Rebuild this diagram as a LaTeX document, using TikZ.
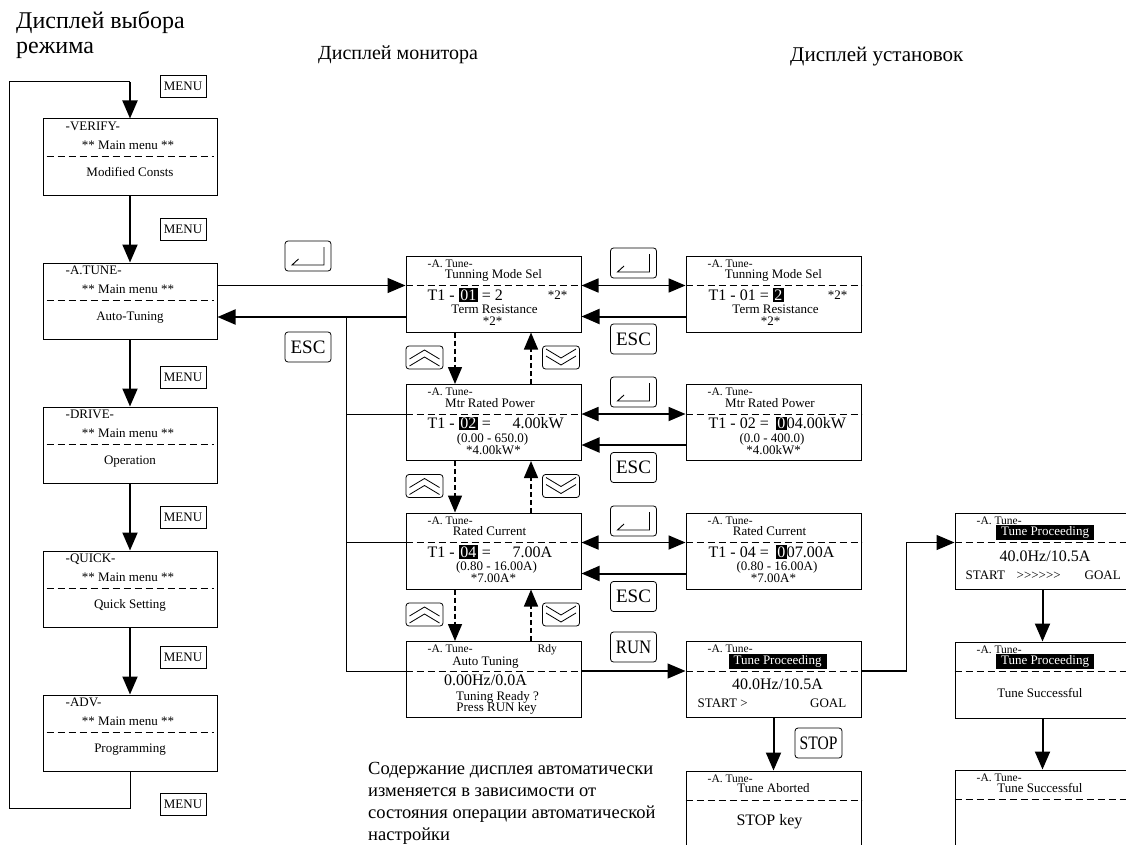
\documentclass[tikz,border=0pt]{standalone}
\usepackage{fontspec}
\setmainfont{Liberation Serif}
\usepackage{graphicx}
\usetikzlibrary{arrows.meta,calc}

% inverted (white on black) characters on the LCD
\newcommand{\hl}[1]{{\setlength{\fboxsep}{1.5pt}\colorbox{black}{\textcolor{white}{#1}}}}

\tikzset{
  % LCD screens
  menubox/.style={draw, line width=1pt, minimum width=174pt, minimum height=76pt, inner sep=0pt},
  scr/.style={draw, line width=1pt, minimum width=175pt, minimum height=76pt, inner sep=0pt},
  lcdsep/.style={line width=1pt, dash pattern=on 7pt off 4pt},
  % screen text
  lsmall/.style={inner sep=0pt, font=\fontsize{11.5}{12}\selectfont, text height=8pt, text depth=2.5pt},
  ltxt/.style={inner sep=0pt, font=\fontsize{13}{14}\selectfont, text height=9pt, text depth=3pt},
  lval/.style={inner sep=0pt, font=\fontsize{16}{17}\selectfont, text height=11pt, text depth=3.5pt},
  linv/.style={fill=black, text=white, inner xsep=5pt, inner ysep=1.5pt, font=\fontsize{13}{14}\selectfont, text height=9pt, text depth=3pt},
  % keys
  menukey/.style={draw, line width=0.8pt, minimum width=46pt, minimum height=22pt, inner sep=0pt, font=\fontsize{13}{14}\selectfont},
  btn/.style={draw, rounded corners=3pt, line width=0.8pt, minimum width=46pt, minimum height=30pt, inner sep=0pt, font=\fontsize{19}{20}\selectfont},
  enterkey/.style={btn, path picture={
      \draw[line width=0.9pt, sharp corners] (path picture bounding box.center)
        ++(16,-9) -- ++(0,18) -- ++(-32,0) -- ++(6.5,-6);}},
  upkey/.style={btn, minimum width=37pt, minimum height=23pt, path picture={
      \draw[line width=0.8pt, sharp corners] (path picture bounding box.center)
        ++(-15,1.5) -- ++(15,-9) -- ++(15,9)
        (path picture bounding box.center) ++(-15,8.5) -- ++(15,-9) -- ++(15,9);}},
  downkey/.style={btn, minimum width=37pt, minimum height=23pt, path picture={
      \draw[line width=0.8pt, sharp corners] (path picture bounding box.center)
        ++(-15,-8.5) -- ++(15,9) -- ++(15,-9)
        (path picture bounding box.center) ++(-15,-1.5) -- ++(15,9) -- ++(15,-9);}},
  % connectors
  arr/.style={-{Triangle[length=18pt,width=15pt]}, line width=2pt},
  arrthin/.style={arr, line width=1.3pt},
  arr2/.style={{Triangle[length=17pt,width=14pt]}-{Triangle[length=17pt,width=14pt]}, line width=1.8pt},
  arrdash/.style={-{Triangle[length=17pt,width=14pt]}, line width=1.5pt, dash pattern=on 5pt off 3pt},
  wire/.style={line width=1pt},
}

\begin{document}
\begin{tikzpicture}[x=1pt, y=-1pt]
    \useasboundingbox (0,0) rectangle (1126,845);
    \clip (0,0) rectangle (1126,845);

    % Column headings
    \node[anchor=north west, align=left, inner sep=0pt, font=\fontsize{24}{25}\selectfont] (hmode) at (16,11) {Дисплей выбора\\режима};
    \node[anchor=base west, inner sep=0pt, font=\fontsize{20}{24}\selectfont] (hmon) at (318,60) {Дисплей монитора};
    \node[anchor=base west, inner sep=0pt, font=\fontsize{21}{24}\selectfont] (hset) at (790,62) {Дисплей установок};

    % Main menu screens
    \foreach \n/\hd/\txt [count=\i from 0] in {verify/-VERIFY-/Modified Consts, atune/-A.TUNE-/Auto-Tuning, drive/-DRIVE-/Operation, quick/-QUICK-/Quick Setting, adv/-ADV-/Programming}{
        \node[menubox] (\n) at (130,157+144*\i) {};
        \node[ltxt, anchor=west] (\n-h) at ([shift={(23,9)}]\n.north west) {\hd};
        \node[ltxt] (\n-m) at ([shift={(-2,28)}]\n.north) {** Main menu **};
        \draw[lcdsep] ([shift={(4,38)}]\n.north west) -- ([shift={(-4,38)}]\n.north east);
        \node[ltxt] (\n-t) at ([shift={(0,55)}]\n.north) {\txt};
    }
    \foreach \y [count=\i] in {86,229.5,377,517,657,804.5}
        \node[menukey] (menu\i) at (183,\y) {MENU};

    % Monitor and setting screens
    \foreach \n [count=\i from 0] in {tmode, mpower, rcur, autotun}
        \node[scr] (\n) at (493.5,294+128.5*\i) {};
    \foreach \n [count=\i from 0] in {tmodeS, mpowerS, rcurS}
        \node[scr] (\n) at (773.5,294+128.5*\i) {};
    \node[scr] (tproc) at (773.5,679.5) {};
    \node[scr] (tabort) at (773.5,809) {};
    \node[scr] (rprog) at (1042.5,551) {};
    \node[scr] (rdone) at (1042.5,680) {};
    \node[scr] (rsucc) at (1042.5,808) {};
    \foreach \n in {tmode, mpower, rcur, autotun, tmodeS, mpowerS, rcurS, tproc, tabort, rprog, rdone, rsucc}{
        \coordinate (\n-w) at ([yshift=-30pt]\n.north west);
        \coordinate (\n-e) at ([yshift=-30pt]\n.north east);
        \draw[lcdsep] (\n-w) -- (\n-e);
        \node[lsmall, anchor=west] (\n-h) at ([shift={(22,9)}]\n.north west) {-A. Tune-};
    }

    % T1-01
    \node[ltxt] (tmode-t) at ([shift={(0,20)}]tmode.north) {Tunning Mode Sel};
    \node[lval, anchor=west] (tmode-v) at ([shift={(22,41)}]tmode.north west) {T1 - \hl{01} = 2};
    \node[ltxt, anchor=east] (tmode-r) at ([shift={(-14,41)}]tmode.north east) {*2*};
    \node[ltxt] (tmode-c) at ([shift={(1,55)}]tmode.north) {Term Resistance};
    \node[ltxt] (tmode-d) at ([shift={(-1,67)}]tmode.north) {*2*};
    \node[ltxt] (tmodeS-t) at ([shift={(0,20)}]tmodeS.north) {Tunning Mode Sel};
    \node[lval, anchor=west] (tmodeS-v) at ([shift={(23,41)}]tmodeS.north west) {T1 - 01 = \hl{2}};
    \node[ltxt, anchor=east] (tmodeS-r) at ([shift={(-14,41)}]tmodeS.north east) {*2*};
    \node[ltxt] (tmodeS-c) at ([shift={(2,55)}]tmodeS.north) {Term Resistance};
    \node[ltxt] (tmodeS-d) at ([shift={(-3,67)}]tmodeS.north) {*2*};

    % T1-02
    \node[ltxt] (mpower-t) at ([shift={(-3.5,20)}]mpower.north) {Mtr Rated Power};
    \node[lval, anchor=west] (mpower-v) at ([shift={(22,41)}]mpower.north west) {T1 - \hl{02} =};
    \node[lval, anchor=west] (mpower-u) at ([shift={(107,41)}]mpower.north west) {4.00kW};
    \node[ltxt] (mpower-c) at ([shift={(-1,55)}]mpower.north) {(0.00 - 650.0)};
    \node[ltxt] (mpower-d) at ([shift={(0,67)}]mpower.north) {*4.00kW*};
    \node[ltxt] (mpowerS-t) at ([shift={(-3.5,20)}]mpowerS.north) {Mtr Rated Power};
    \node[lval, anchor=west] (mpowerS-v) at ([shift={(23,41)}]mpowerS.north west) {T1 - 02 =\hspace{7pt}\hl{0}04.00kW};
    \node[ltxt] (mpowerS-c) at ([shift={(-1.5,55)}]mpowerS.north) {(0.0 - 400.0)};
    \node[ltxt] (mpowerS-d) at ([shift={(0,67)}]mpowerS.north) {*4.00kW*};

    % T1-04
    \node[ltxt] (rcur-t) at ([shift={(-4,20)}]rcur.north) {Rated Current};
    \node[lval, anchor=west] (rcur-v) at ([shift={(22,41)}]rcur.north west) {T1 - \hl{04} =};
    \node[lval, anchor=west] (rcur-u) at ([shift={(107,41)}]rcur.north west) {7.00A};
    \node[ltxt] (rcur-c) at ([shift={(3,55)}]rcur.north) {(0.80 - 16.00A)};
    \node[ltxt] (rcur-d) at ([shift={(0,67)}]rcur.north) {*7.00A*};
    \node[ltxt] (rcurS-t) at ([shift={(-4,20)}]rcurS.north) {Rated Current};
    \node[lval, anchor=west] (rcurS-v) at ([shift={(23,41)}]rcurS.north west) {T1 - 04 =\hspace{7pt}\hl{0}07.00A};
    \node[ltxt] (rcurS-c) at ([shift={(3.5,55)}]rcurS.north) {(0.80 - 16.00A)};
    \node[ltxt] (rcurS-d) at ([shift={(0,67)}]rcurS.north) {*7.00A*};

    % Auto tuning
    \node[lsmall, anchor=west] (autotun-r) at ([shift={(132,9)}]autotun.north west) {Rdy};
    \node[ltxt] (autotun-t) at ([shift={(-8,21)}]autotun.north) {Auto Tuning};
    \node[lval] (autotun-v) at ([shift={(-8,41)}]autotun.north) {0.00Hz/0.0A};
    \node[ltxt] (autotun-c) at ([shift={(4,56)}]autotun.north) {Tuning Ready ?};
    \node[ltxt] (autotun-d) at ([shift={(3,67)}]autotun.north) {Press RUN key};

    \node[linv] (tproc-t) at ([shift={(4,20)}]tproc.north) {Tune Proceeding};
    \node[lval] (tproc-v) at ([shift={(4,45)}]tproc.north) {40.0Hz/10.5A};
    \node[ltxt, anchor=west] (tproc-s) at ([shift={(12,63)}]tproc.north west) {START >};
    \node[ltxt, anchor=east] (tproc-g) at ([shift={(-15,63)}]tproc.north east) {GOAL};

    \node[ltxt] (tabort-t) at ([shift={(0,19)}]tabort.north) {Tune Aborted};
    \node[lval] (tabort-v) at ([shift={(-4,51)}]tabort.north) {STOP key};

    \node[linv] (rprog-t) at ([shift={(2.5,20)}]rprog.north) {Tune Proceeding};
    \node[lval] (rprog-v) at ([shift={(2.5,45)}]rprog.north) {40.0Hz/10.5A};
    \node[ltxt, anchor=west] (rprog-s) at ([shift={(11,64)}]rprog.north west) {START};
    \node[ltxt, anchor=west] (rprog-p) at ([shift={(62,64)}]rprog.north west) {>{}>{}>{}>{}>{}>};
    \node[ltxt, anchor=west] (rprog-g) at ([shift={(130,64)}]rprog.north west) {GOAL};

    \node[linv] (rdone-t) at ([shift={(2.5,20)}]rdone.north) {Tune Proceeding};
    \node[ltxt] (rdone-v) at ([shift={(-2.5,53)}]rdone.north) {Tune Successful};
    \node[ltxt] (rsucc-t) at ([shift={(-2.5,20)}]rsucc.north) {Tune Successful};

    % Keys
    \node[enterkey] (enter0) at (308,256) {};
    \node[btn] (esc0) at (308,347) {ESC};
    \foreach \y [count=\i] in {263,392,521}
        \node[enterkey] (enter\i) at (633.5,\y) {};
    \foreach \y [count=\i] in {339,467.5,596.5}
        \node[btn] (esc\i) at (633.5,\y) {ESC};
    \node[btn] (run) at (633.5,647) {\scalebox{0.88}[1]{RUN}};
    \node[btn, minimum width=47pt] (stop) at (818.5,743) {\scalebox{0.82}[1]{STOP}};
    \foreach \y [count=\i] in {357.5,486,614.5}{
        \node[upkey] (up\i) at (424.5,\y) {};
        \node[downkey] (down\i) at (561,\y) {};
    }

    % Main menu cycle
    \foreach \a/\b in {verify/atune, atune/drive, drive/quick, quick/adv}
        \draw[arr] (\a.south) -- (\b.north);
    \coordinate (loopS) at (130,808);
    \coordinate (loopW) at (9,82);
    \coordinate (loopN) at (130,82);
    \draw[wire] (adv.south) -- (loopS) -| (loopW) -- (loopN);
    \draw[arr] (loopN) -- (verify.north);

    % Into auto-tuning and back
    \draw[arrthin] (atune.east |- tmode-w) -- (tmode-w);
    \coordinate (bus) at (346,317);
    \draw[arr] (tmode.west |- bus) -- (atune.east |- bus);
    \draw[wire] (bus) -- (bus |- autotun-w) -- (autotun-w);
    \foreach \n in {mpower, rcur}
        \draw[wire] (bus |- \n-w) -- (\n-w);

    % Parameter scrolling
    \foreach \a/\b in {tmode/mpower, mpower/rcur, rcur/autotun}{
        \draw[arrdash] ([xshift=-38.5pt]\a.south) -- ([xshift=-38.5pt]\b.north);
        \draw[arrdash] ([xshift=37.5pt]\b.north) -- ([xshift=37.5pt]\a.south);
    }

    % Monitor <-> setting
    \foreach \a in {tmode, mpower, rcur}{
        \draw[arr2] (\a-e) -- (\a S-w);
        \draw[arr] ([yshift=-61pt]\a S.north west) -- ([yshift=-61pt]\a.north east);
    }

    % Tuning run
    \draw[arrthin] (autotun-e) -- (tproc-w);
    \draw[arr] (tproc.south) -- (tabort.north);
    \coordinate (elbow) at ($(tproc-e)+(45,0)$);
    \draw[arrthin] (tproc-e) -- (elbow) |- (rprog-w);
    \draw[arr] (rprog.south) -- (rdone.north);
    \draw[arr] (rdone.south) -- (rsucc.north);

    % Note
    \node[anchor=north west, align=left, inner sep=0pt, font=\fontsize{18.5}{22}\selectfont] (note) at (368,762)
        {Содержание дисплея автоматически\\изменяется в зависимости от\\состояния операции автоматической\\настройки};
\end{tikzpicture}
\end{document}
